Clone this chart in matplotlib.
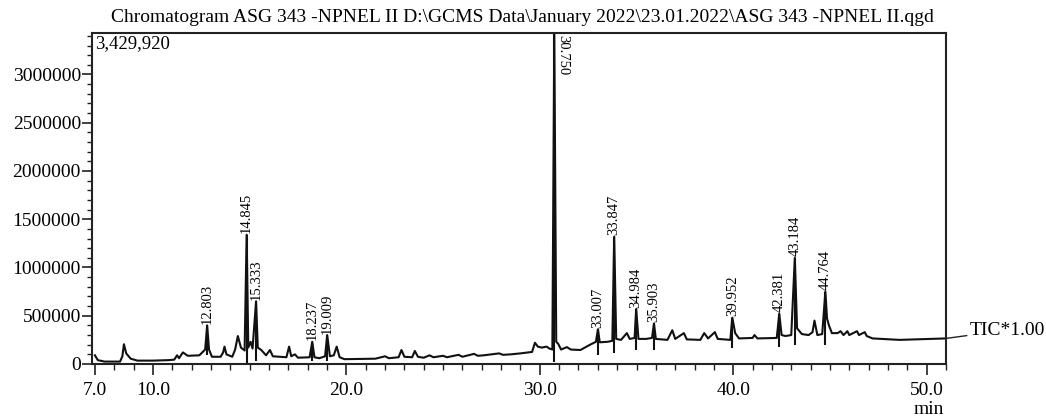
import numpy as np
import matplotlib
matplotlib.use("Agg")
import matplotlib.pyplot as plt
from matplotlib.ticker import MultipleLocator, FixedLocator, FuncFormatter

plt.rcParams['font.family'] = ['Liberation Serif', 'DejaVu Serif']

# TIC trace vertices (time in min, intensity in counts)
trace_time = [
    7.00, 7.15, 7.50, 8.30, 8.42, 8.50, 8.62, 8.85, 9.20, 10.00, 10.80, 11.10,
    11.25, 11.35, 11.55, 11.80, 12.40, 12.70, 12.803, 12.90, 13.05, 13.50, 13.63,
    13.70, 13.80, 14.10, 14.25, 14.39, 14.55, 14.74, 14.845, 14.93, 15.05, 15.15,
    15.333, 15.42, 15.60, 15.85, 16.05, 16.20, 16.90, 17.04, 17.15, 17.34, 17.50,
    18.10, 18.237, 18.35, 18.60, 18.90, 19.009, 19.15, 19.35, 19.50, 19.65, 19.90,
    21.50, 22.00, 22.20, 22.70, 22.85, 23.00, 23.40, 23.54, 23.70, 24.00, 24.30,
    24.50, 25.00, 25.20, 25.80, 26.00, 26.60, 26.80, 27.10, 27.90, 28.10, 28.50,
    29.00, 29.60, 29.75, 29.90, 30.10, 30.35, 30.50, 30.65, 30.75, 30.85, 30.95,
    31.10, 31.40, 31.60, 32.10, 32.60, 32.90, 33.007, 33.10, 33.50, 33.75, 33.847,
    33.95, 34.20, 34.50, 34.65, 34.90, 34.984, 35.10, 35.50, 35.80, 35.903, 36.00,
    36.60, 36.85, 37.00, 37.45, 37.60, 38.30, 38.50, 38.70, 39.05, 39.20, 39.85,
    39.952, 40.10, 40.30, 41.00, 41.10, 41.25, 42.25, 42.381, 42.50, 42.70, 43.00,
    43.184, 43.30, 43.55, 43.90, 44.10, 44.20, 44.35, 44.60, 44.764, 44.85, 44.95,
    45.10, 45.40, 45.55, 45.70, 45.90, 46.00, 46.40, 46.50, 46.80, 46.90, 47.20,
    48.60, 51.00,
]
trace_int = [
    90000, 40000, 25000, 25000, 80000, 205000, 110000, 55000, 35000, 35000, 40000, 45000,
    90000, 60000, 120000, 85000, 90000, 150000, 400000, 150000, 75000, 75000, 120000,
    180000, 100000, 75000, 150000, 290000, 170000, 140000, 1340000, 170000, 230000, 160000,
    650000, 170000, 145000, 90000, 145000, 80000, 70000, 180000, 80000, 100000, 65000,
    70000, 230000, 70000, 60000, 80000, 300000, 80000, 90000, 180000, 70000, 50000,
    55000, 80000, 60000, 70000, 145000, 75000, 70000, 135000, 75000, 65000, 90000,
    70000, 85000, 70000, 95000, 75000, 105000, 85000, 90000, 110000, 95000, 100000,
    110000, 125000, 220000, 180000, 170000, 180000, 160000, 150000, 3429920, 230000, 210000,
    150000, 175000, 150000, 145000, 200000, 230000, 360000, 225000, 230000, 240000, 1320000,
    260000, 250000, 320000, 260000, 270000, 570000, 260000, 260000, 270000, 420000, 260000,
    250000, 350000, 260000, 320000, 255000, 250000, 320000, 265000, 330000, 260000, 250000,
    480000, 320000, 265000, 270000, 300000, 265000, 270000, 520000, 300000, 290000, 300000,
    1100000, 370000, 310000, 300000, 330000, 450000, 300000, 310000, 750000, 470000, 400000,
    320000, 320000, 340000, 300000, 340000, 300000, 340000, 300000, 330000, 290000, 265000,
    250000, 265000,
]

# labelled peaks: retention time, apex intensity, bottom of the integration marker
peak_rt = [12.803, 14.845, 15.333, 18.237, 19.009, 30.750, 33.007, 33.847,
           34.984, 35.903, 39.952, 42.381, 43.184, 44.764]
peak_top = [400000, 1340000, 650000, 230000, 300000, 3429920, 360000, 1320000,
            570000, 420000, 480000, 520000, 1100000, 750000]
marker_low = [90000, 0, 30000, 30000, 30000, 20000, 90000, 110000,
              145000, 145000, 165000, 180000, 200000, 200000]

x_ticks = [7.0, 10.0, 20.0, 30.0, 40.0, 50.0]
y_max = 3429920

fig = plt.figure(figsize=(10.46, 4.17), dpi=100)
ax = fig.add_axes([92 / 1046, 1 - 364 / 417, 854 / 1046, 331 / 417])

ax.plot(trace_time, trace_int, color='#111111', lw=1.5)
ax.vlines(peak_rt, marker_low, peak_top, color='#111111', lw=1.5)

for rt, top in zip(peak_rt, peak_top):
    if top >= y_max:
        # tallest peak: label hangs down beside the clipped apex
        ax.text(rt + 0.12, y_max * 0.995, f'{rt:.3f}', rotation=-90, ha='left', va='top',
                fontsize=10.5)
    else:
        ax.text(rt, top + 15000, f'{rt:.3f}', rotation=90, ha='center', va='bottom',
                fontsize=10.5)

ax.set_xlim(6.85, 51.0)
ax.set_ylim(0, y_max)

ax.xaxis.set_major_locator(FixedLocator(x_ticks))
ax.xaxis.set_major_formatter(FuncFormatter(lambda v, p: f'{v:.1f}'))
ax.xaxis.set_minor_locator(MultipleLocator(1.0))
ax.yaxis.set_major_locator(MultipleLocator(500000))
ax.yaxis.set_minor_locator(MultipleLocator(100000))
ax.yaxis.set_major_formatter(FuncFormatter(lambda v, p: f'{int(v)}'))

ax.tick_params(axis='both', which='both', direction='out', color='#222222', labelsize=14)
ax.tick_params(axis='y', which='major', length=7, width=1.2, pad=1)
ax.tick_params(axis='y', which='minor', length=3.5, width=1.0)
ax.tick_params(axis='x', which='major', length=8, width=1.2, pad=5)
ax.tick_params(axis='x', which='minor', length=4, width=1.0)

for sp in ax.spines.values():
    sp.set_linewidth(1.5)
    sp.set_color('#222222')

ax.text(0.004, 0.995, '3,429,920', transform=ax.transAxes, ha='left', va='top', fontsize=13.5)

ax.annotate('TIC*1.00', xy=(51.0, 265000), xytext=(17, 6), textcoords='offset points',
            ha='left', va='center', fontsize=14, annotation_clip=False,
            arrowprops=dict(arrowstyle='-', color='#222222', lw=1.0, shrinkA=0, shrinkB=0))

fig.text(0.499, 1 - 17 / 417, 'Chromatogram ASG 343 -NPNEL II D:\\GCMS Data\\January 2022\\'
         '23.01.2022\\ASG 343 -NPNEL II.qgd', ha='center', va='center', fontsize=14)
fig.text(929 / 1046, 1 - 409 / 417, 'min', ha='center', va='center', fontsize=14)

fig.savefig('out.png', dpi=100)
